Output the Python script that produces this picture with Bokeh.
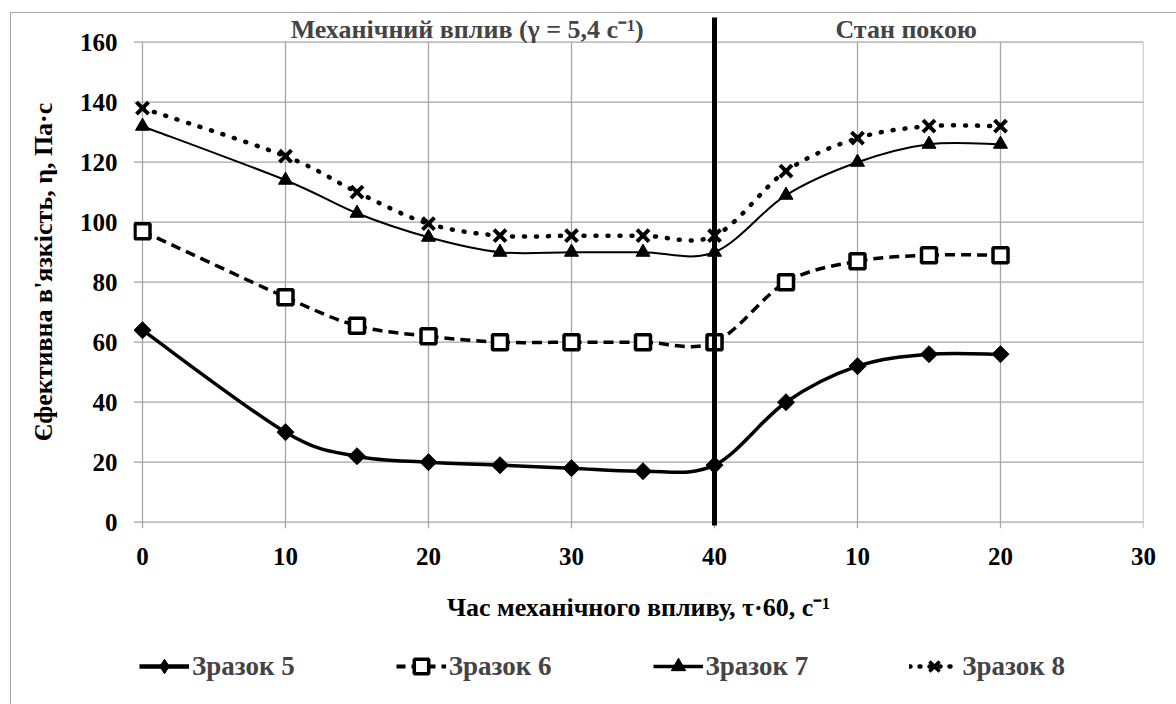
import math
from bokeh.plotting import figure
from bokeh.layouts import column
from bokeh.models import Range1d, FixedTicker, Label, Legend, LegendItem, ColumnDataSource
from bokeh.embed import file_html
from bokeh.resources import INLINE

# ---------------- data ----------------
time_points = [0, 10, 15, 20, 25, 30, 35, 40, 45, 50, 55, 60]
zrazok5 = [64, 30, 22, 20, 19, 18, 17, 19, 40, 52, 56, 56]
zrazok6 = [97, 75, 65.5, 62, 60, 60, 60, 60, 80, 87, 89, 89]
zrazok7 = [132, 114, 103, 95, 90, 90, 90, 90, 109, 120, 126, 126]
zrazok8 = [138, 122, 110, 99.5, 95.5, 95.5, 95.5, 95.5, 117, 128, 132, 132]
series_names = ["Зразок 5", "Зразок 6", "Зразок 7", "Зразок 8"]
x_ticks = [0, 10, 20, 30, 40, 50, 60, 70]
x_tick_labels = ["0", "10", "20", "30", "40", "10", "20", "30"]
y_ticks = [0, 20, 40, 60, 80, 100, 120, 140, 160]
divider_at = 40
section_titles = ["Механічний вплив (γ = 5,4 с⁻¹)", "Стан покою"]
x_title = "Час механічного впливу, τ·60, с⁻¹"
y_title = "Єфективна в'язкість, η, Па·с"

# ---------------- geometry (canvas == page) ----------------
W = 1176
H_MAIN, H_LEG = 640, 64
FL, FR, FT, FB = 133, 1143, 15, 528      # frame edges in px
X0_PX, Y0_PX = 142, 521.7                # pixel position of data origin
PX_X = (FR - X0_PX) / 70
PX_Y = (Y0_PX - 41.7) / 160
x_start = -(X0_PX - FL) / PX_X
x_end = 70
y_start = -(FB - Y0_PX) / PX_Y
y_end = (Y0_PX - FT) / PX_Y

FONT = "Liberation Serif, Times New Roman, serif"
GRID = "#a6a6a6"
LINE_CSS = "linear-gradient(#a6a6a6,#a6a6a6)"

p = figure(width=W, height=H_MAIN, output_backend="svg", toolbar_location=None,
           x_range=Range1d(x_start, x_end), y_range=Range1d(y_start, y_end),
           min_border_left=FL, min_border_right=W - FR, min_border_top=FT,
           min_border_bottom=H_MAIN - FB, title=None)
p.outline_line_color = None
p.xgrid.visible = False
p.ygrid.visible = False
p.border_fill_color = None
p.background_fill_color = None
p.styles = {
    "background-color": "white",
    "background-image": f"{LINE_CSS}, {LINE_CSS}",
    "background-size": "100% 1px, 1px 100%",
    "background-position": "10px 12px, 10px 12px",
    "background-repeat": "no-repeat",
}

for ax in (p.xaxis[0], p.yaxis[0]):
    ax.axis_line_color = None
    ax.major_tick_line_color = None
    ax.minor_tick_line_color = None
    ax.major_tick_out = 0
    ax.major_tick_in = 0
    ax.major_label_text_font = FONT
    ax.major_label_text_font_style = "bold"
    ax.major_label_text_font_size = "25px"
    ax.major_label_text_color = "black"
    ax.axis_label_text_font = FONT
    ax.axis_label_text_font_style = "bold"
    ax.axis_label_text_font_size = "26px"
    ax.axis_label_text_color = "black"

p.xaxis.ticker = FixedTicker(ticks=x_ticks)
p.xaxis.major_label_overrides = {t: lab for t, lab in zip(x_ticks, x_tick_labels)}
p.xaxis.major_label_standoff = 19
p.xaxis.axis_label = x_title
p.xaxis.axis_label_standoff = 25
p.yaxis.ticker = FixedTicker(ticks=y_ticks)
p.yaxis.major_label_standoff = 16
p.yaxis.axis_label = y_title
p.yaxis.axis_label_standoff = 19

# gridlines / axis lines (with outward tick stubs)
p.segment(x0=[x_start] * len(y_ticks), x1=[x_ticks[-1]] * len(y_ticks), y0=y_ticks, y1=y_ticks,
          line_color=GRID, line_width=1.3)
p.segment(x0=x_ticks, x1=x_ticks, y0=[y_start] * len(x_ticks), y1=[y_ticks[-1]] * len(x_ticks),
          line_color=GRID, line_width=1.3)


def smooth_source(xs, ys):
    n = len(xs)
    d = dict(x0=[], y0=[], x1=[], y1=[], cx0=[], cy0=[], cx1=[], cy1=[])
    for i in range(n - 1):
        ip = max(i - 1, 0)
        i2 = min(i + 2, n - 1)
        d["x0"].append(xs[i]); d["y0"].append(ys[i])
        d["x1"].append(xs[i + 1]); d["y1"].append(ys[i + 1])
        d["cx0"].append(xs[i] + (xs[i + 1] - xs[ip]) / 6)
        d["cy0"].append(ys[i] + (ys[i + 1] - ys[ip]) / 6)
        d["cx1"].append(xs[i + 1] - (xs[i2] - xs[i]) / 6)
        d["cy1"].append(ys[i + 1] - (ys[i2] - ys[i]) / 6)
    return ColumnDataSource(d)


styles = [
    dict(line=dict(line_width=3.5, line_dash="solid", line_cap="round"),
         marker=dict(marker="square", size=12, angle=math.pi / 4, fill_color="black", line_color="black", line_width=1),
         leg_line=dict(line_width=4.5, line_dash="solid"),
         leg_marker=dict(marker="diamond", size=22, fill_color="black", line_color="black", line_width=1)),
    dict(line=dict(line_width=3.5, line_dash="10 6", line_cap="butt"),
         marker=dict(marker="square", size=15, fill_color="white", line_color="black", line_width=3.5),
         leg_line=dict(line_width=4, line_dash="9 6"),
         leg_marker=dict(marker="square", size=14, fill_color="white", line_color="black", line_width=3.5)),
    dict(line=dict(line_width=2, line_dash="solid", line_cap="round"),
         marker=dict(marker="triangle", size=14, fill_color="black", line_color="black", line_width=1),
         leg_line=dict(line_width=3.5, line_dash="solid"),
         leg_marker=dict(marker="triangle", size=16, fill_color="black", line_color="black", line_width=1)),
    dict(line=dict(line_width=4.5, line_dash="1 11", line_cap="round"),
         marker=dict(marker="x", size=17, fill_color="black", line_color="black", line_width=4),
         leg_line=dict(line_width=4.5, line_dash="1 9", line_cap="round"),
         leg_marker=dict(marker="x", size=15, fill_color="black", line_color="black", line_width=3.5)),
]
series = [zrazok5, zrazok6, zrazok7, zrazok8]

for ys, st in zip(series, styles):
    p.bezier(x0="x0", y0="y0", x1="x1", y1="y1", cx0="cx0", cy0="cy0", cx1="cx1", cy1="cy1",
             source=smooth_source(time_points, ys), line_color="black", **st["line"])
    p.scatter(x=time_points, y=ys, **st["marker"])

# section divider
p.segment(x0=[divider_at], x1=[divider_at], y0=[-(525 - Y0_PX) / PX_Y], y1=[(Y0_PX - 17) / PX_Y],
          line_color="black", line_width=5)

# section titles (inside the frame's top margin)
for title, xc in zip(section_titles, [22.7, 53.4]):
    p.add_layout(Label(x=xc, y=(Y0_PX - 28.5) / PX_Y, text=title, text_font=FONT,
                       text_font_style="bold", text_font_size="26px", text_align="center",
                       text_baseline="middle"))

# ---------------- legend strip ----------------
leg = figure(width=W, height=H_LEG, output_backend="svg", toolbar_location=None,
             x_range=Range1d(0, 1), y_range=Range1d(0, 1), min_border=0, title=None,
             x_axis_location=None, y_axis_location=None)
leg.xgrid.visible = False
leg.ygrid.visible = False
leg.outline_line_color = None
leg.border_fill_color = None
leg.background_fill_color = None
leg.styles = {
    "background-color": "white",
    "background-image": LINE_CSS,
    "background-size": "1px 100%",
    "background-position": "10px 0px",
    "background-repeat": "no-repeat",
}

legend_items = []
nan = float("nan")
for name, st in zip(series_names, styles):
    lr = leg.line(x=[nan], y=[nan], line_color="black", **st["leg_line"])
    mr = leg.scatter(x=[nan], y=[nan], **st["leg_marker"])
    legend_items.append(LegendItem(label=name, renderers=[lr, mr]))

legend = Legend(items=legend_items, orientation="horizontal", location=(6, 20),
                label_text_font=FONT, label_text_font_style="bold", label_text_font_size="27px",
                glyph_width=50, glyph_height=36, label_standoff=3, spacing=101,
                padding=0, margin=0, border_line_color=None, background_fill_alpha=0)
leg.add_layout(legend, "center")

layout = column(p, leg, spacing=0)
open("out.html", "w").write(file_html(layout, INLINE))
